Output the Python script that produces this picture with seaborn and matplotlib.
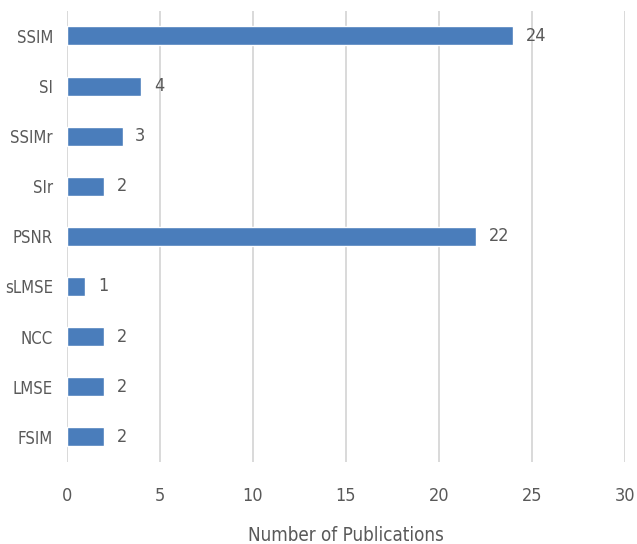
import matplotlib
matplotlib.use("Agg")
import matplotlib.pyplot as plt
import seaborn as sns
import pandas as pd

metrics = ["SSIM", "SI", "SSIMr", "SIr", "PSNR", "sLMSE", "NCC", "LMSE", "FSIM"]
publications = [24, 4, 3, 2, 22, 1, 2, 2, 2]
x_ticks = [0, 5, 10, 15, 20, 25, 30]

df = pd.DataFrame({"metric": metrics, "count": publications})

sns.set_theme(style="white")
plt.rcParams["font.family"] = ["DejaVu Sans"]
plt.rcParams["font.stretch"] = "condensed"

text_color = "#595959"
bar_color = "#4a7dbb"

fig = plt.figure(figsize=(6.37, 5.44), dpi=100)
ax = fig.add_axes([0.105, 0.151, 0.876, 0.829])

sns.barplot(data=df, y="metric", x="count", orient="h", color=bar_color,
            width=0.38, saturation=1, ax=ax, zorder=3)

ax.set_xlim(0, 30)
ax.set_ylim(len(metrics) - 0.5, -0.5)
ax.set_xticks(x_ticks)
ax.set_xticklabels([str(t) for t in x_ticks])
ax.grid(axis="x", color="#d9d9d9", linewidth=1.4, zorder=0)
ax.grid(axis="y", visible=False)
for s in ax.spines.values():
    s.set_visible(False)

ax.tick_params(axis="x", length=0, pad=18, labelsize=13, labelcolor=text_color)
ax.tick_params(axis="y", length=0, pad=10, labelsize=12, labelcolor=text_color)
ax.set_ylabel("")
ax.set_xlabel("Number of Publications", fontsize=13.5, color=text_color, labelpad=15)

for container in ax.containers:
    ax.bar_label(container, labels=[str(v) for v in publications], padding=9,
                 fontsize=13, color=text_color)

fig.savefig("out.png", dpi=100, facecolor="white")
